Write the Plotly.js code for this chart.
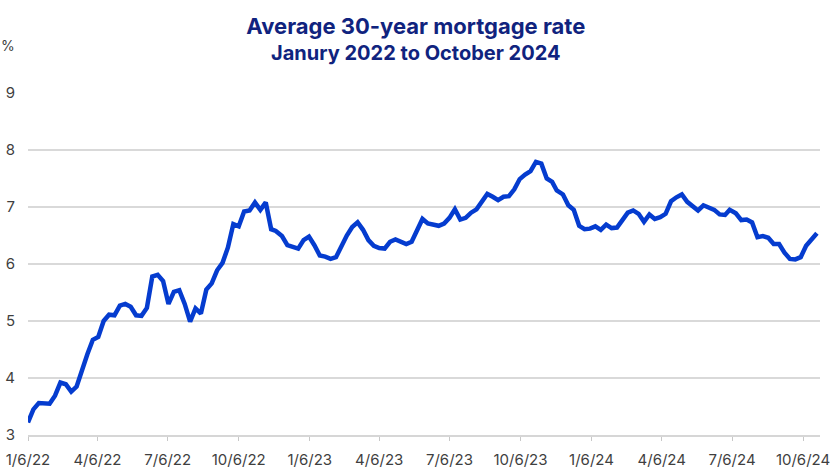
<!DOCTYPE html>
<html>
<head>
<meta charset="utf-8">
<script src="https://cdn.plot.ly/plotly-3.0.1.min.js"></script>
<style>
  html, body { margin: 0; padding: 0; background: #fff; }
  #chart { width: 840px; height: 472px; }
</style>
</head>
<body>
<div id="chart"></div>
<script>
// Weekly dates (Freddie Mac PMMS release weeks)
const dates2022 = ['2022-01-06','2022-01-13','2022-01-20','2022-01-27','2022-02-03','2022-02-10','2022-02-17','2022-02-24',
  '2022-03-03','2022-03-10','2022-03-17','2022-03-24','2022-03-31','2022-04-07','2022-04-14','2022-04-21','2022-04-28',
  '2022-05-05','2022-05-12','2022-05-19','2022-05-26','2022-06-02','2022-06-09','2022-06-16','2022-06-23','2022-06-30',
  '2022-07-07','2022-07-14','2022-07-21','2022-07-28','2022-08-04','2022-08-11','2022-08-18','2022-08-25',
  '2022-09-01','2022-09-08','2022-09-15','2022-09-22','2022-09-29','2022-10-06','2022-10-13','2022-10-20','2022-10-27',
  '2022-11-03','2022-11-10','2022-11-17','2022-11-23','2022-12-01','2022-12-08','2022-12-15','2022-12-22','2022-12-29'];
const rates2022 = [3.22,3.45,3.56,3.55,3.55,3.69,3.92,3.89,
  3.76,3.85,4.16,4.42,4.67,4.72,5.00,5.11,5.10,
  5.27,5.30,5.25,5.10,5.09,5.23,5.78,5.81,5.70,
  5.30,5.51,5.54,5.30,4.99,5.22,5.13,5.55,
  5.66,5.89,6.02,6.29,6.70,6.66,6.92,6.94,7.08,
  6.95,7.08,6.61,6.58,6.49,6.33,6.31,6.27,6.42];

const dates2023 = ['2023-01-05','2023-01-12','2023-01-19','2023-01-26','2023-02-02','2023-02-09','2023-02-16','2023-02-23',
  '2023-03-02','2023-03-09','2023-03-16','2023-03-23','2023-03-30','2023-04-06','2023-04-13','2023-04-20','2023-04-27',
  '2023-05-04','2023-05-11','2023-05-18','2023-05-25','2023-06-01','2023-06-08','2023-06-15','2023-06-22','2023-06-29',
  '2023-07-06','2023-07-13','2023-07-20','2023-07-27','2023-08-03','2023-08-10','2023-08-17','2023-08-24','2023-08-31',
  '2023-09-07','2023-09-14','2023-09-21','2023-09-28','2023-10-05','2023-10-12','2023-10-19','2023-10-26',
  '2023-11-02','2023-11-09','2023-11-16','2023-11-22','2023-11-30','2023-12-07','2023-12-14','2023-12-21','2023-12-28'];
const rates2023 = [6.48,6.33,6.15,6.13,6.09,6.12,6.32,6.50,
  6.65,6.73,6.60,6.42,6.32,6.28,6.27,6.39,6.43,
  6.39,6.35,6.39,6.57,6.79,6.71,6.69,6.67,6.71,
  6.81,6.96,6.78,6.81,6.90,6.96,7.09,7.23,7.18,
  7.12,7.18,7.19,7.31,7.49,7.57,7.63,7.79,
  7.76,7.50,7.44,7.29,7.22,7.03,6.95,6.67,6.61];

const dates2024 = ['2024-01-04','2024-01-11','2024-01-18','2024-01-25','2024-02-01','2024-02-08','2024-02-15','2024-02-22','2024-02-29',
  '2024-03-07','2024-03-14','2024-03-21','2024-03-28','2024-04-04','2024-04-11','2024-04-18','2024-04-25',
  '2024-05-02','2024-05-09','2024-05-16','2024-05-23','2024-05-30','2024-06-06','2024-06-13','2024-06-20','2024-06-27',
  '2024-07-03','2024-07-11','2024-07-18','2024-07-25','2024-08-01','2024-08-08','2024-08-15','2024-08-22','2024-08-29',
  '2024-09-05','2024-09-12','2024-09-19','2024-09-26','2024-10-03','2024-10-10','2024-10-17','2024-10-24'];
const rates2024 = [6.62,6.66,6.60,6.69,6.63,6.64,6.77,6.90,6.94,
  6.88,6.74,6.87,6.79,6.82,6.88,7.10,7.17,
  7.22,7.09,7.02,6.94,7.03,6.99,6.95,6.87,6.86,
  6.95,6.89,6.77,6.78,6.73,6.47,6.49,6.46,6.35,
  6.35,6.20,6.09,6.08,6.12,6.32,6.44,6.54];

const tickDates = ['2022-01-06','2022-04-06','2022-07-06','2022-10-06','2023-01-06','2023-04-06',
  '2023-07-06','2023-10-06','2024-01-06','2024-04-06','2024-07-06','2024-10-06'];
const tickLabels = ['1/6/22','4/6/22','7/6/22','10/6/22','1/6/23','4/6/23',
  '7/6/23','10/6/23','1/6/24','4/6/24','7/6/24','10/6/24'];
const yTicks = [3,4,5,6,7,8,9];

const dates = dates2022.concat(dates2023, dates2024);
const rates = rates2022.concat(rates2023, rates2024);

const FONT = 'Inter, "Open Sans", "DejaVu Sans", sans-serif';

const trace = {
  type: 'scatter',
  mode: 'lines',
  x: dates,
  y: rates,
  line: { color: '#053ccf', width: 4.5 },
  hoverinfo: 'x+y'
};

const layout = {
  width: 840,
  height: 472,
  margin: { l: 28, r: 20, t: 93, b: 37, pad: 0 },
  paper_bgcolor: '#ffffff',
  plot_bgcolor: '#ffffff',
  showlegend: false,
  font: { family: FONT, size: 15, color: '#3a3a3a' },
  title: {
    text: '<span style="font-size:22px">Average 30-year mortgage rate</span><br>Janury 2022 to October 2024',
    font: { family: FONT, size: 20, color: '#10237E', weight: 700 },
    x: 0.495, xref: 'container', xanchor: 'center',
    y: 0.928, yref: 'container', yanchor: 'middle'
  },
  xaxis: {
    type: 'date',
    range: ['2022-01-06', '2024-10-28'],
    tickmode: 'array',
    tickvals: tickDates,
    ticktext: tickLabels,
    showgrid: false,
    zeroline: false,
    showline: true,
    linecolor: '#d6d6d6',
    linewidth: 1.5,
    ticks: 'outside',
    ticklen: 4,
    tickwidth: 1,
    tickcolor: '#c8c8c8',
    ticklabelstandoff: 6,
    tickfont: { family: FONT, size: 15, color: '#3f3f3f' }
  },
  yaxis: {
    range: [3, 9],
    tickmode: 'array',
    tickvals: yTicks,
    ticktext: yTicks.map(String),
    showgrid: true,
    gridcolor: '#d9d9d9',
    gridwidth: 1.5,
    zeroline: false,
    showline: false,
    ticks: '',
    ticklabelstandoff: 12,
    tickfont: { family: FONT, size: 15, color: '#3f3f3f' }
  },
  annotations: [{
    text: '%',
    xref: 'paper', yref: 'paper',
    x: 0, y: 1,
    xshift: -20, yshift: 48,
    xanchor: 'center', yanchor: 'middle',
    showarrow: false,
    font: { family: FONT, size: 14, color: '#3f3f3f' }
  }]
};

Plotly.newPlot('chart', [trace], layout, { displayModeBar: false, staticPlot: true });
</script>
</body>
</html>
